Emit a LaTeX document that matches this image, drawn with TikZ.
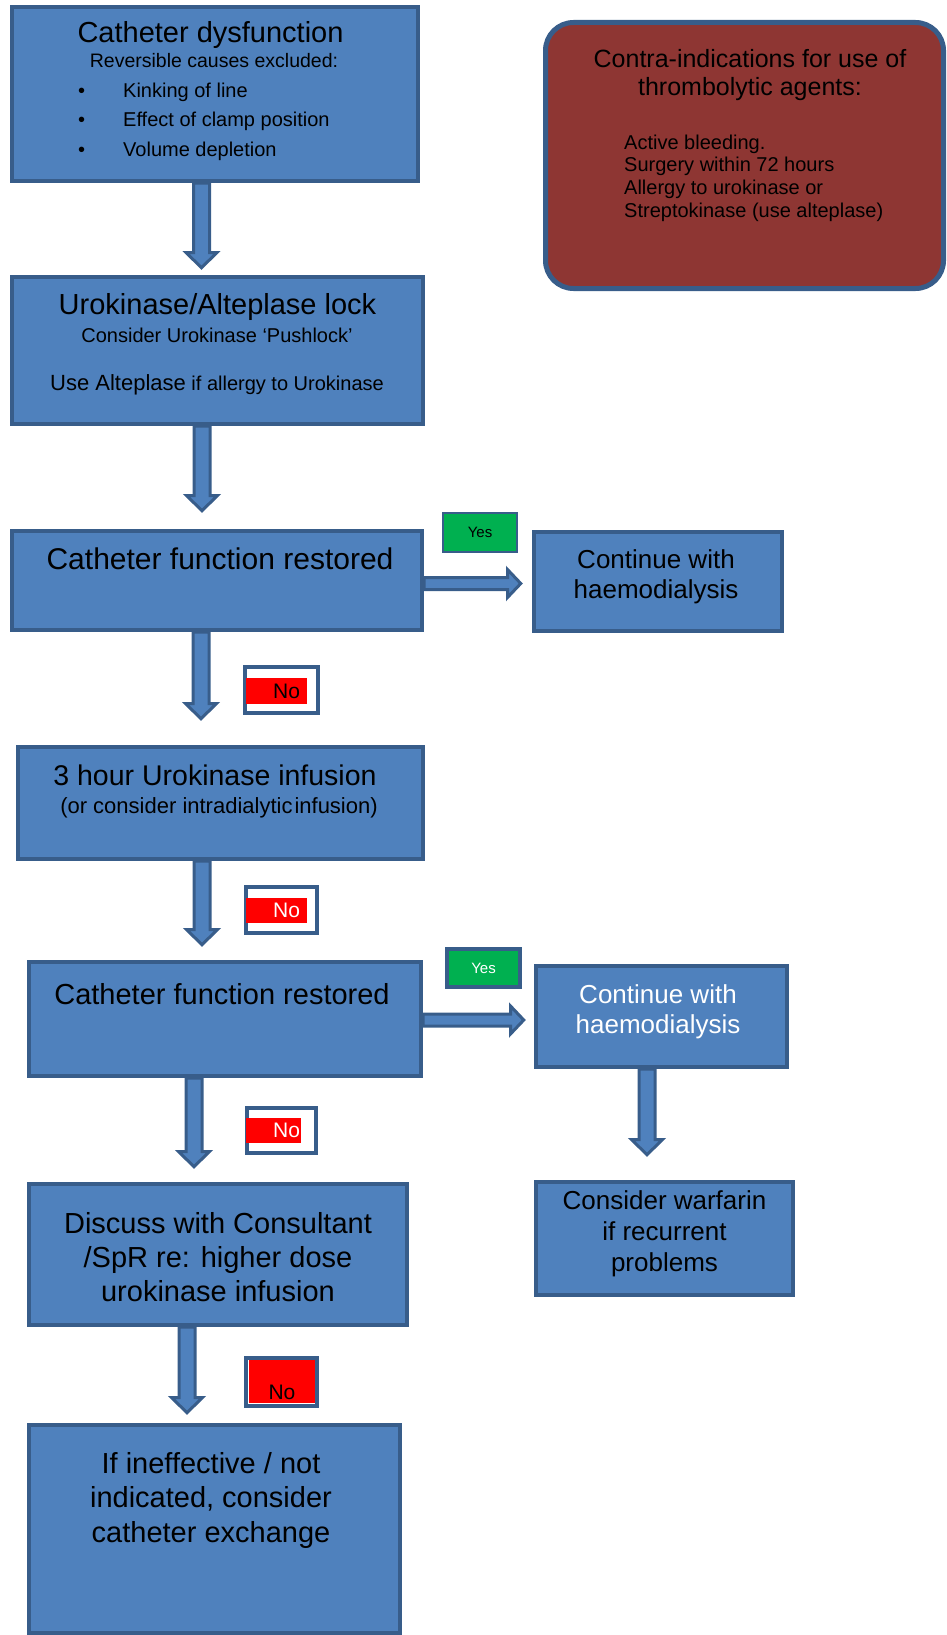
\documentclass[tikz,border=0pt]{standalone}
\usepackage{fontspec}
\setmainfont{Liberation Sans}
\usepackage{tikz}
\usetikzlibrary{calc}
\definecolor{boxblue}{RGB}{79,129,189}
\definecolor{edgeblue}{RGB}{56,93,138}
\definecolor{contrared}{RGB}{142,54,51}
\definecolor{yesgreen}{RGB}{0,176,80}
\newcommand{\fs}[2]{\fontsize{#1}{#2}\selectfont}
% block arrows: start point, tip point
\newcommand{\vflow}[2]{\draw[flow] let \p1=(#1), \p2=(#2) in
  (\x1-8pt,\y1) -- (\x1-8pt,\y2+17.5pt) -- (\x1-15.5pt,\y2+17.5pt) -- (\x1,\y2+2.25pt)
  -- (\x1+15.5pt,\y2+17.5pt) -- (\x1+8pt,\y2+17.5pt) -- (\x1+8pt,\y1) -- cycle;}
\newcommand{\hflow}[2]{\draw[flow] let \p1=(#1), \p2=(#2) in
  (\x1,\y1+6pt) -- (\x2-15.5pt,\y1+6pt) -- (\x2-15.5pt,\y1+14pt) -- (\x2-2.25pt,\y1)
  -- (\x2-15.5pt,\y1-14pt) -- (\x2-15.5pt,\y1-6pt) -- (\x1,\y1-6pt) -- cycle;}

\begin{document}
\begin{tikzpicture}[x=1pt, y=-1pt,
  pbox/.style={draw=edgeblue, line width=4pt, fill=boxblue, inner sep=0pt},
  txt/.style={inner sep=0pt, align=center},
  flow/.style={draw=edgeblue, line width=3pt, fill=boxblue},
  nbox/.style={draw=edgeblue, line width=4pt, fill=white, inner sep=0pt},
  ntag/.style={fill=red, inner ysep=0pt, align=right, font=\fs{21}{21}},
  ytag/.style={fill=yesgreen, draw=edgeblue, inner sep=0pt, font=\fs{15}{15}}
]
  \useasboundingbox (0,0) rectangle (946,1635);

  % boxes
  \node[pbox, minimum width=406pt, minimum height=174pt] (b1) at (215,94) {};
  \node[pbox, minimum width=411pt, minimum height=147pt] (b2) at (217.5,350.5) {};
  \node[pbox, minimum width=410pt, minimum height=99pt] (b3) at (217,580.5) {};
  \node[pbox, minimum width=248pt, minimum height=99pt] (c1) at (658,581.5) {};
  \node[pbox, minimum width=405pt, minimum height=112pt] (b4) at (220.5,803) {};
  \node[pbox, minimum width=392pt, minimum height=114pt] (b5) at (225,1019) {};
  \node[pbox, minimum width=251pt, minimum height=101pt] (c2) at (661.5,1016.5) {};
  \node[pbox, minimum width=257pt, minimum height=113pt] (warf) at (664.5,1238.5) {};
  \node[pbox, minimum width=378pt, minimum height=141pt] (b6) at (218,1254.5) {};
  \node[pbox, minimum width=371pt, minimum height=207.5pt] (b7) at (214.5,1528.75) {};
  \node[pbox, fill=contrared, line width=5pt, rounded corners=28pt,
        minimum width=398pt, minimum height=266pt] (ci) at (744.5,155.5) {};

  % texts
  \node[txt, anchor=base, font=\fs{29}{34}] (b1t) at (210.5,43) {Catheter dysfunction};
  \node[txt, anchor=base, font=\fs{19.5}{24}] (b1s) at (214,68) {Reversible causes excluded:};
  \node[txt, align=left, anchor=north west, font=\fs{20}{29.5}] (b1l) at (78,82.4)
    {\makebox[45pt][l]{\textbullet}Kinking of line\\
     \makebox[45pt][l]{\textbullet}Effect of clamp position\\
     \makebox[45pt][l]{\textbullet}Volume depletion};
  \node[txt, anchor=base, font=\fs{29}{34}] (b2t) at (217.5,314) {Urokinase/Alteplase lock};
  \node[txt, anchor=base, font=\fs{20}{24}] (b2s) at (217,342) {Consider Urokinase ‘Pushlock’};
  \node[txt, anchor=base, font=\fs{20}{24}] (b2u) at (217,390) {{\fs{22}{24}Use Alteplase} if allergy to Urokinase};
  \node[txt, anchor=base, font=\fs{30}{34}] (b3t) at (220,569) {Catheter function restored};
  \node[txt, anchor=north, font=\fs{26}{30}] (c1t) at (656,549) {Continue with\\haemodialysis};
  \node[txt, anchor=base, font=\fs{28.5}{34}] (b4t) at (215,785) {3 hour Urokinase infusion};
  \node[txt, anchor=base, font=\fs{22}{26}] (b4s) at (219,813) {(or consider intradialytic\hspace{2pt}infusion)};
  \node[txt, anchor=base, font=\fs{29}{34}] (b5t) at (222,1004) {Catheter function restored};
  \node[txt, anchor=north, text=white, font=\fs{26}{30}] (c2t) at (658,984) {Continue with\\haemodialysis};
  \node[txt, anchor=north, font=\fs{26}{31}] (warft) at (664.5,1190) {Consider warfarin\\if recurrent\\problems};
  \node[txt, anchor=north, font=\fs{29}{34}] (b6t) at (218,1212) {Discuss with Consultant\\/SpR re: higher dose\\urokinase infusion};
  \node[txt, anchor=north, font=\fs{29}{34.5}] (b7t) at (211,1452) {If ineffective / not\\indicated, consider\\catheter exchange};
  \node[txt, anchor=north, font=\fs{25}{28}] (cit) at (750,48.7) {Contra-indications for use of\\thrombolytic agents:};
  \node[txt, align=left, anchor=north west, font=\fs{20}{22.7}] (cil) at (624,134.4)
    {Active bleeding.\\Surgery within 72 hours\\Allergy to urokinase or\\Streptokinase (use alteplase)};

  % yes / no tags
  \node[ytag, line width=2pt, minimum width=74pt, minimum height=39pt] (y1) at (480,532.5) {Yes};
  \node[ytag, line width=4.5pt, minimum width=73pt, minimum height=38pt, text=white] (y2) at (483.5,968) {Yes};
  \node[nbox, minimum width=73pt, minimum height=46pt] (n1) at (281.5,690) {};
  \node[ntag, minimum height=26pt, text width=47pt, inner xsep=7pt] (n1t) at (276.5,691) {No};
  \node[nbox, minimum width=71pt, minimum height=46pt] (n2) at (281.5,910) {};
  \node[ntag, minimum height=25pt, text width=47pt, inner xsep=7pt, text=white] (n2t) at (276.5,910.5) {No};
  \node[nbox, minimum width=69pt, minimum height=45pt] (n3) at (281.5,1130.5) {};
  \node[ntag, minimum height=25pt, text width=53pt, inner xsep=1pt, text=white] (n3t) at (273.5,1130.5) {No};
  \node[nbox, minimum width=71pt, minimum height=48pt] (n4) at (281.5,1382) {};
  \node[ntag, align=center, minimum height=43pt, text width=66pt, inner xsep=0pt,
        text height=35pt, text depth=0pt] (n4t) at (282,1381.5) {No};

  % arrows
  \vflow{[xshift=-13.5pt]b1.south}{[yshift=5pt]b2.north}
  \vflow{[xshift=-15.5pt]b2.south}{[yshift=16pt]b3.north}
  \vflow{[xshift=-16pt]b3.south}{[yshift=24pt]b4.north}
  \vflow{[xshift=-18.5pt]b4.south}{[yshift=13pt]b5.north}
  \vflow{[xshift=-31pt]b5.south}{[yshift=13pt]b6.north}
  \vflow{[xshift=-31pt]b6.south}{[yshift=8pt]b7.north}
  \vflow{[xshift=-14.5pt]c2.south}{[yshift=23pt]warf.north}
  \hflow{[yshift=-3pt]b3.east}{[xshift=-9pt]c1.west}
  \hflow{[yshift=-1pt]b5.east}{[xshift=-8pt]c2.west}
\end{tikzpicture}
\end{document}
